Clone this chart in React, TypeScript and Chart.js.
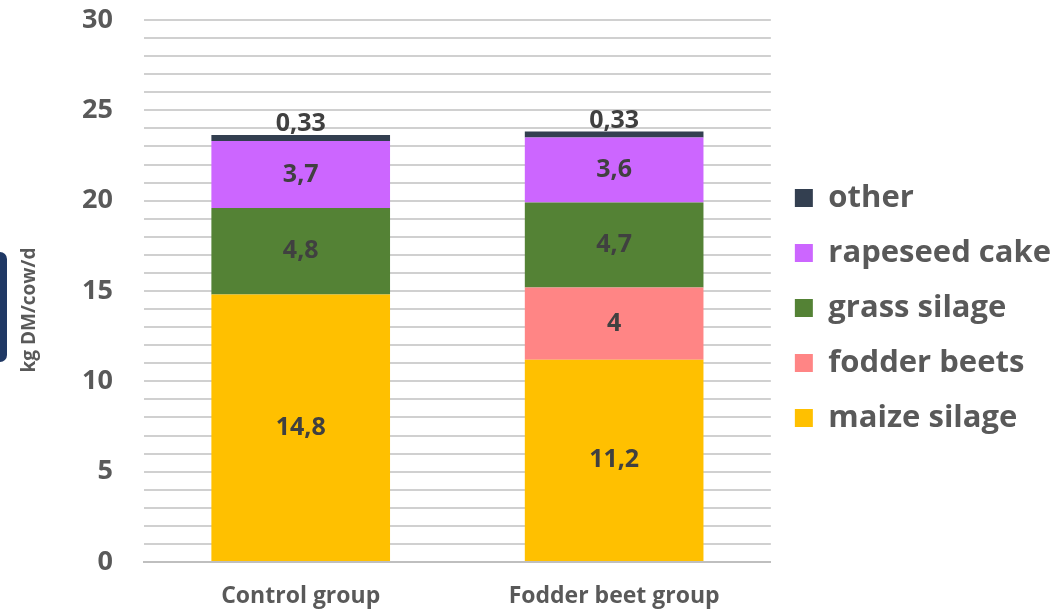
import React, { useEffect, useRef } from "react";
import { Chart, registerables } from "chart.js";

Chart.register(...registerables);

const categories = ["Control group", "Fodder beet group"];
const maizeSilage = [14.8, 11.2];
const fodderBeets = [0, 4];
const grassSilage = [4.8, 4.7];
const rapeseedCake = [3.7, 3.6];
const other = [0.33, 0.33];
const yTickLabels = [0, 5, 10, 15, 20, 25, 30];

const FONT = "'Open Sans'";
const TEXT = "#595959";
const LABEL = "#404040";

const fmt = (v: number) => String(v).replace(".", ",");

const valueLabels = {
  id: "valueLabels",
  afterDatasetsDraw(chart: any) {
    const ctx = chart.ctx;
    ctx.save();
    ctx.font = `bold 25px ${FONT}`;
    ctx.fillStyle = LABEL;
    ctx.textAlign = "center";
    ctx.textBaseline = "middle";
    chart.data.datasets.forEach((ds: any, di: number) => {
      const meta = chart.getDatasetMeta(di);
      meta.data.forEach((el: any, i: number) => {
        const v = ds.data[i];
        if (!v) return;
        const p = el.getProps(["x", "y", "base"], true);
        if (ds.label === "other") {
          ctx.fillText(fmt(v), p.x, p.y - 11);
        } else {
          ctx.fillText(fmt(v), p.x, (p.y + p.base) / 2);
        }
      });
    });
    ctx.restore();
  },
};

const legendShift = {
  id: "legendShift",
  afterLayout(chart: any) {
    if (chart.legend) {
      chart.legend.top -= 7;
      chart.legend.bottom -= 7;
    }
  },
};

export default function App() {
  const ref = useRef<HTMLCanvasElement>(null);
  useEffect(() => {
    const mk = (label: string, data: number[], color: string) => ({
      label,
      data,
      backgroundColor: color,
      borderWidth: 0,
      categoryPercentage: 1,
      barPercentage: 0.57,
    });
    const chart = new Chart(ref.current!, {
      type: "bar",
      data: {
        labels: categories,
        datasets: [
          mk("maize silage", maizeSilage, "#FFC000"),
          mk("fodder beets", fodderBeets, "#FF8585"),
          mk("grass silage", grassSilage, "#548235"),
          mk("rapeseed cake", rapeseedCake, "#CC66FF"),
          mk("other", other, "#333F50"),
        ],
      },
      options: {
        animation: false,
        responsive: false,
        layout: { padding: { left: 18, top: 20, right: 0, bottom: 2 } },
        plugins: {
          tooltip: { enabled: false },
          legend: {
            position: "right",
            reverse: true,
            maxWidth: 330,
            labels: {
              boxWidth: 18,
              boxHeight: 18,
              padding: 24,
              color: TEXT,
              font: { family: FONT, size: 31, weight: "bold" },
            },
          },
        },
        scales: {
          x: {
            stacked: true,
            grid: { display: false },
            border: { display: true, color: "#bfbfbf", width: 2 },
            afterFit(scale: any) {
              scale.height = 48;
            },
            ticks: {
              padding: 13,
              color: TEXT,
              font: { family: FONT, size: 23, weight: "bold" },
            },
          },
          y: {
            stacked: true,
            min: 0,
            max: 30,
            afterBuildTicks(scale: any) {
              const t: any[] = [];
              for (let v = 0; v <= 30; v++) t.push({ value: v });
              scale.ticks = t;
            },
            afterFit(scale: any) {
              scale.width = 126;
              scale.paddingTop = 0;
              scale.paddingBottom = 0;
            },
            grid: { color: "#d0d0d0", lineWidth: 2, drawTicks: false },
            border: { display: false },
            ticks: {
              padding: 31,
              autoSkip: false,
              color: TEXT,
              font: { family: FONT, size: 27, weight: "bold" },
              callback: (v: any) => (yTickLabels.includes(Number(v)) ? String(v) : ""),
            },
            title: {
              display: true,
              text: "kg DM/cow/d\u2003\u2003",
              color: TEXT,
              padding: 0,
              font: { family: FONT, size: 19, weight: "bold" },
            },
          },
        },
      },
      plugins: [valueLabels, legendShift],
    });
    return () => chart.destroy();
  }, []);
  return (
    <div style={{ position: "fixed", left: 0, top: 0, width: 1061, height: 612, background: "#fff" }}>
      <canvas ref={ref} width={1061} height={612} style={{ display: "block" }} />
      <div
        style={{
          position: "absolute",
          left: 0,
          top: 252,
          width: 7,
          height: 110,
          background: "#1F3864",
          borderTopRightRadius: 8,
          borderBottomRightRadius: 8,
        }}
      />
    </div>
  );
}
